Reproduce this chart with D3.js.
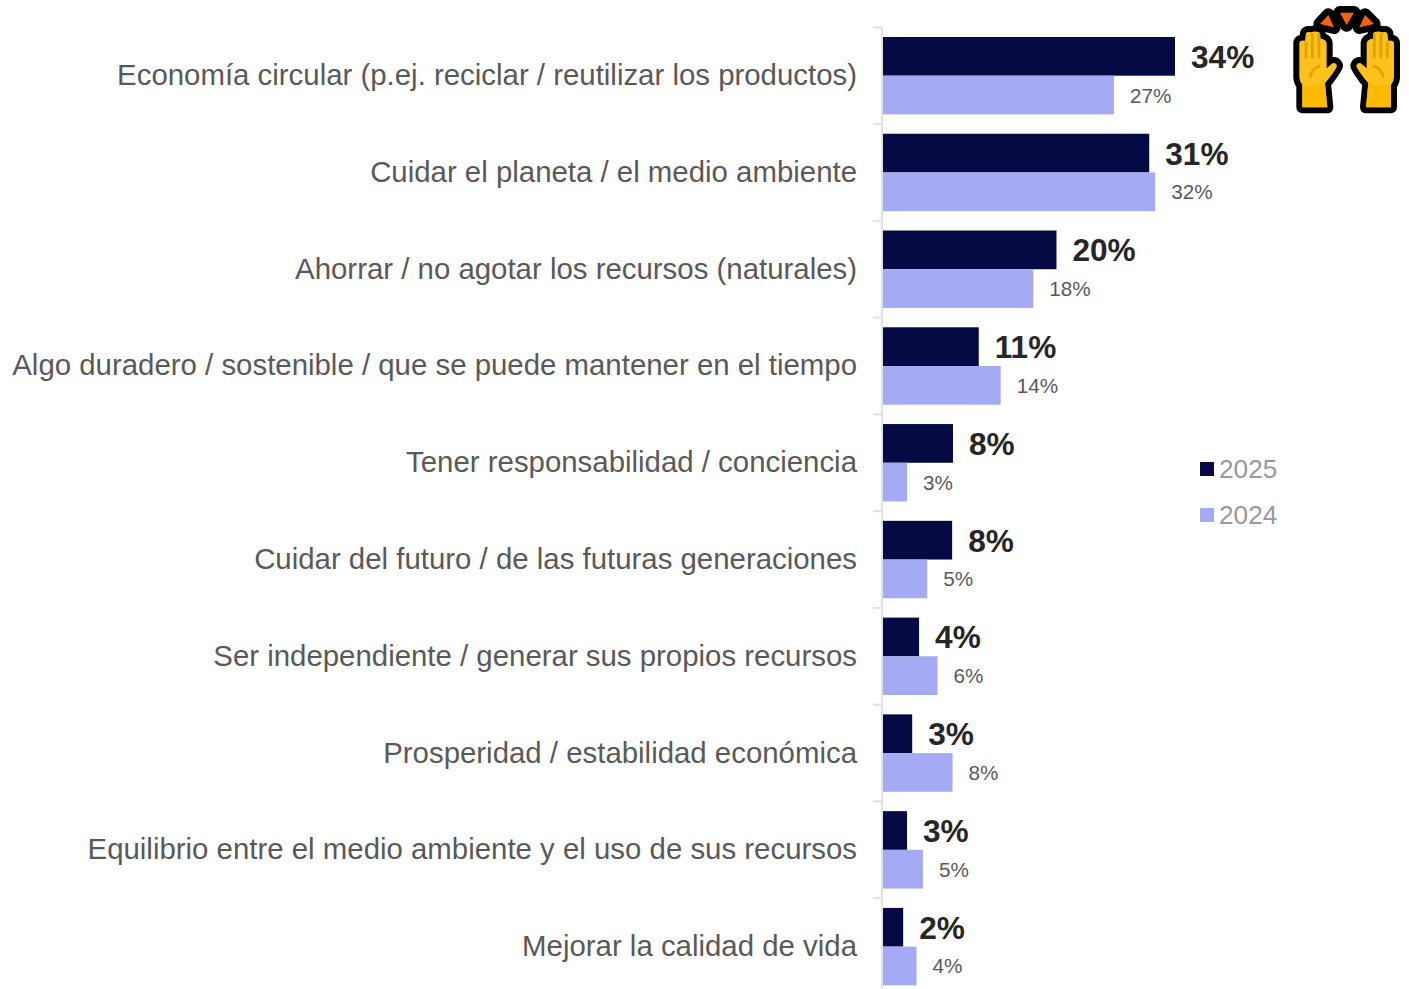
<!DOCTYPE html>
<html><head><meta charset="utf-8">
<script src="https://cdn.jsdelivr.net/npm/d3@7"></script>
<style>html,body{margin:0;padding:0;background:#fff;overflow:hidden}svg{display:block}text{font-family:"Liberation Sans",Arial,sans-serif}</style>
</head><body><svg id="c" width="1409" height="989"></svg>
<script>
const categories = ["Economía circular (p.ej. reciclar / reutilizar los productos)","Cuidar el planeta / el medio ambiente","Ahorrar / no agotar los recursos (naturales)","Algo duradero / sostenible / que se puede mantener en el tiempo","Tener responsabilidad / conciencia","Cuidar del futuro / de las futuras generaciones","Ser independiente / generar sus propios recursos","Prosperidad / estabilidad económica","Equilibrio entre el medio ambiente y el uso de sus recursos","Mejorar la calidad de vida"];
const seriesNames = ["2025","2024"];
const values2025 = [34.0,31.0,20.2,11.15,8.15,8.05,4.2,3.4,2.8,2.35];
const values2024 = [26.9,31.7,17.5,13.7,2.8,5.15,6.35,8.1,4.65,3.9];
const labels2025 = ["34%","31%","20%","11%","8%","8%","4%","3%","3%","2%"];
const labels2024 = ["27%","32%","18%","14%","3%","5%","6%","8%","5%","4%"];
const colors = ["#050a45","#a5aaf5"];

const svg = d3.select("#c");
const x = d3.scaleLinear().domain([0,34]).range([883,1175]);
const y = d3.scaleBand().domain(categories).range([27.3,995]).paddingInner(0.2).paddingOuter(0.1);
const y1 = d3.scaleBand().domain(seriesNames).range([0,y.bandwidth()]);

// axis
const axis = svg.append("g").attr("stroke","#e2e2e2").attr("stroke-width",2);
axis.append("line").attr("x1",882).attr("x2",882).attr("y1",27).attr("y2",989);
categories.forEach((c,i)=>{const t=27.3+i*y.step();axis.append("line").attr("x1",873).attr("x2",882).attr("y1",t).attr("y2",t);});

// bars and labels
[[values2025,labels2025],[values2024,labels2024]].forEach(([vals,labs],s)=>{
  const name=seriesNames[s];
  const g=svg.append("g");
  g.selectAll("rect").data(categories).join("rect")
    .attr("x",x(0)).attr("y",c=>y(c)+y1(name))
    .attr("width",(c,i)=>x(vals[i])-x(0)).attr("height",y1.bandwidth())
    .attr("fill",colors[s]);
  g.selectAll("text").data(categories).join("text")
    .attr("x",(c,i)=>x(vals[i])+16).attr("y",c=>y(c)+y1(name)+y1.bandwidth()/2+(s?7.5:11.5))
    .attr("font-size",s?20.7:31.6).attr("font-weight",s?400:700)
    .attr("fill",s?"#595959":"#262626")
    .text((c,i)=>labs[i]);
});

// category labels
svg.append("g").selectAll("text").data(categories).join("text")
  .attr("x",857).attr("y",c=>y(c)+y.bandwidth()/2+9.5)
  .attr("text-anchor","end").attr("font-size",29.4).attr("fill","#595959").text(c=>c);

// legend
seriesNames.forEach((n,i)=>{
  const ly=469+i*46;
  svg.append("rect").attr("x",1200).attr("y",ly-7).attr("width",14).attr("height",14).attr("fill",colors[i]);
  svg.append("text").attr("x",1219).attr("y",ly+8.8).attr("font-size",26.2).attr("fill","#999999").text(n);
});

// raised-hands icon
const icon = svg.append("g").attr("transform","translate(1270,0) scale(0.3333)");
[0,1].forEach(m=>{
  const h=icon.append("g").attr("transform",m?"translate(460,0) scale(-1,1)":null);
  const hand="M97 322L97 255Q88 245 88 232L88 130Q88 120 105 122L108 100Q112 94 122 97Q135 92 148 97L152 116Q170 118 170 132L170 205L187 190Q198 186 201 197Q201 205 165 250L172 322Z";
  h.append("path").attr("d",hand).attr("fill","#000").attr("stroke","#000").attr("stroke-width",36).attr("stroke-linejoin","round");
  h.append("path").attr("d",hand).attr("fill","#fcc21b");
  h.append("path").attr("d","M97 322L97 255Q130 260 165 250L172 322Z").attr("fill","#ffb900");
  h.append("path").attr("d","M108 125L108 175M127 100L127 175M147 100L147 175").attr("stroke","#e3a000").attr("stroke-width",8).attr("fill","none");
  h.append("path").attr("d","M120 232Q125 205 150 197").attr("stroke","#e3a000").attr("stroke-width",8).attr("fill","none");
});
const sparks=["M150 72L175 45L192 82Z","M210 38L252 38L230 75Z","M268 82L285 45L312 72Z"];
sparks.forEach(d=>icon.append("path").attr("d",d).attr("fill","#000").attr("stroke","#000").attr("stroke-width",40).attr("stroke-linejoin","round"));
sparks.forEach(d=>icon.append("path").attr("d",d).attr("fill","#f7630c"));
</script></body></html>
